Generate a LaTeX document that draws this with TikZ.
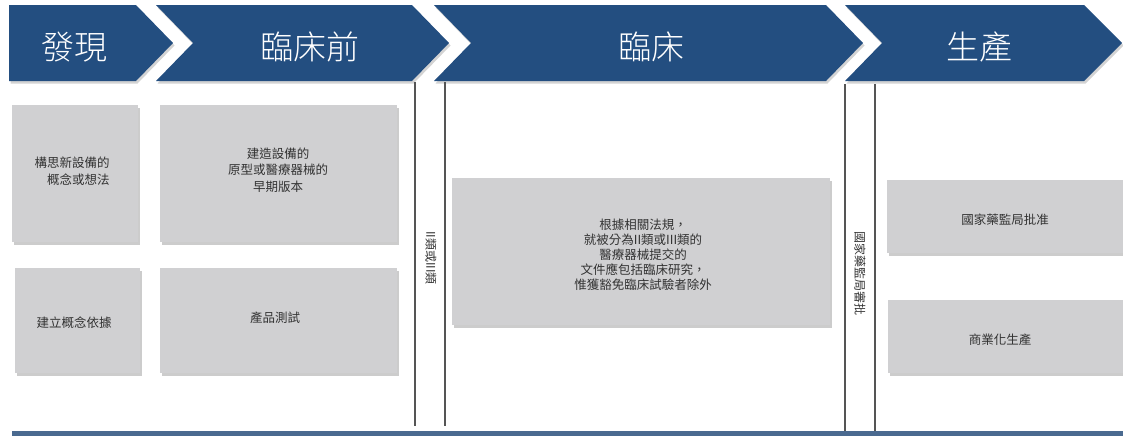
\documentclass[tikz,border=0pt]{standalone}
\usepackage{fontspec}
\newfontfamily\cjk{Noto Sans CJK TC}
\newfontfamily\cjklight{Noto Sans CJK TC}[UprightFont={* Light}]
\usetikzlibrary{shadows}
\definecolor{chev}{RGB}{35,78,128}
\definecolor{boxg}{RGB}{208,208,210}
\definecolor{txtg}{RGB}{50,50,50}
\definecolor{barc}{RGB}{74,106,144}
\definecolor{vlinec}{RGB}{85,85,85}
\begin{document}
\begin{tikzpicture}[x=1pt,y=-1pt,
  chevron/.style={fill=chev,draw=none,drop shadow={shadow xshift=1.5pt,shadow yshift=-2.5pt,opacity=0.35}},
  head/.style={text=white,font=\cjklight\fontsize{33}{36}\selectfont,inner sep=0pt},
  gbox/.style={fill=boxg,draw=none,inner sep=0pt,anchor=north west,drop shadow={shadow xshift=2pt,shadow yshift=-2.5pt,opacity=0.4}},
  btxt/.style={text=txtg,font=\cjk\fontsize{12.5}{16.5}\selectfont,align=center,inner sep=0pt},
  vtxt/.style={text=txtg,font=\cjk\fontsize{12}{14}\selectfont,rotate=-90,inner sep=0pt},
  vline/.style={draw=vlinec,line width=1.5pt}
]
\useasboundingbox (0,0) rectangle (1123,437);

% chevrons
\path[chevron] (9,5) -- (136,5) -- (173,43) -- (136,81) -- (9,81) -- cycle;
\path[chevron] (156,5) -- (412,5) -- (449,43) -- (412,81) -- (156,81) -- (193,43) -- cycle;
\path[chevron] (434,5) -- (826,5) -- (863,43) -- (826,81) -- (434,81) -- (471,43) -- cycle;
\path[chevron] (845,5) -- (1084,5) -- (1122,43) -- (1084,81) -- (845,81) -- (882,43) -- cycle;

\node[head] (h1) at (74,47) {發現};
\node[head] (h2) at (310,47) {臨床前};
\node[head] (h3) at (651,47) {臨床};
\node[head] (h4) at (979,47) {生產};

% gray boxes
\node[gbox,minimum width=126pt,minimum height=137pt] (bA) at (12,105) {};
\node[gbox,minimum width=237pt,minimum height=137pt] (bB) at (160,105) {};
\node[gbox,minimum width=125pt,minimum height=105pt] (bC) at (15,268) {};
\node[gbox,minimum width=237pt,minimum height=105pt] (bD) at (160,268) {};
\node[gbox,minimum width=378pt,minimum height=147pt] (bE) at (452,178) {};
\node[gbox,minimum width=240pt,minimum height=73pt] (bF) at (887,180) {};
\node[gbox,minimum width=240pt,minimum height=73pt] (bG) at (888,300) {};

\node[btxt,align=right] (tA) at (72,171) {構思新設備的\\概念或想法};
\node[btxt] (tB) at (278,170) {建造設備的\\原型或醫療器械的\\早期版本};
\node[btxt] (tC) at (74,323) {建立概念依據};
\node[btxt] (tD) at (275,318) {產品測試};
\node[btxt,font=\cjk\fontsize{12.5}{15}\selectfont] (tE) at (643,255) {根據相關法規，\\就被分為II類或III類的\\醫療器械提交的\\文件應包括臨床研究，\\惟獲豁免臨床試驗者除外};
\node[btxt] (tF) at (1005,220) {國家藥監局批准};
\node[btxt] (tG) at (1000,340) {商業化生產};

% vertical lines
\coordinate (v1t) at (415,82); \coordinate (v1b) at (415,426);
\coordinate (v2t) at (445,82); \coordinate (v2b) at (445,426);
\coordinate (v3t) at (845,84); \coordinate (v3b) at (845,431);
\coordinate (v4t) at (875,84); \coordinate (v4b) at (875,431);
\draw[vline] (v1t) -- (v1b);
\draw[vline] (v2t) -- (v2b);
\draw[vline] (v3t) -- (v3b);
\draw[vline] (v4t) -- (v4b);

\node[vtxt] (vt1) at (431,258) {II類或III類};
\node[vtxt] (vt2) at (860,273) {國家藥監局審批};

% bottom bar
\node[fill=barc,draw=none,inner sep=0pt,anchor=north west,minimum width=1111pt,minimum height=5pt] (bar) at (12,431) {};
\end{tikzpicture}
\end{document}
